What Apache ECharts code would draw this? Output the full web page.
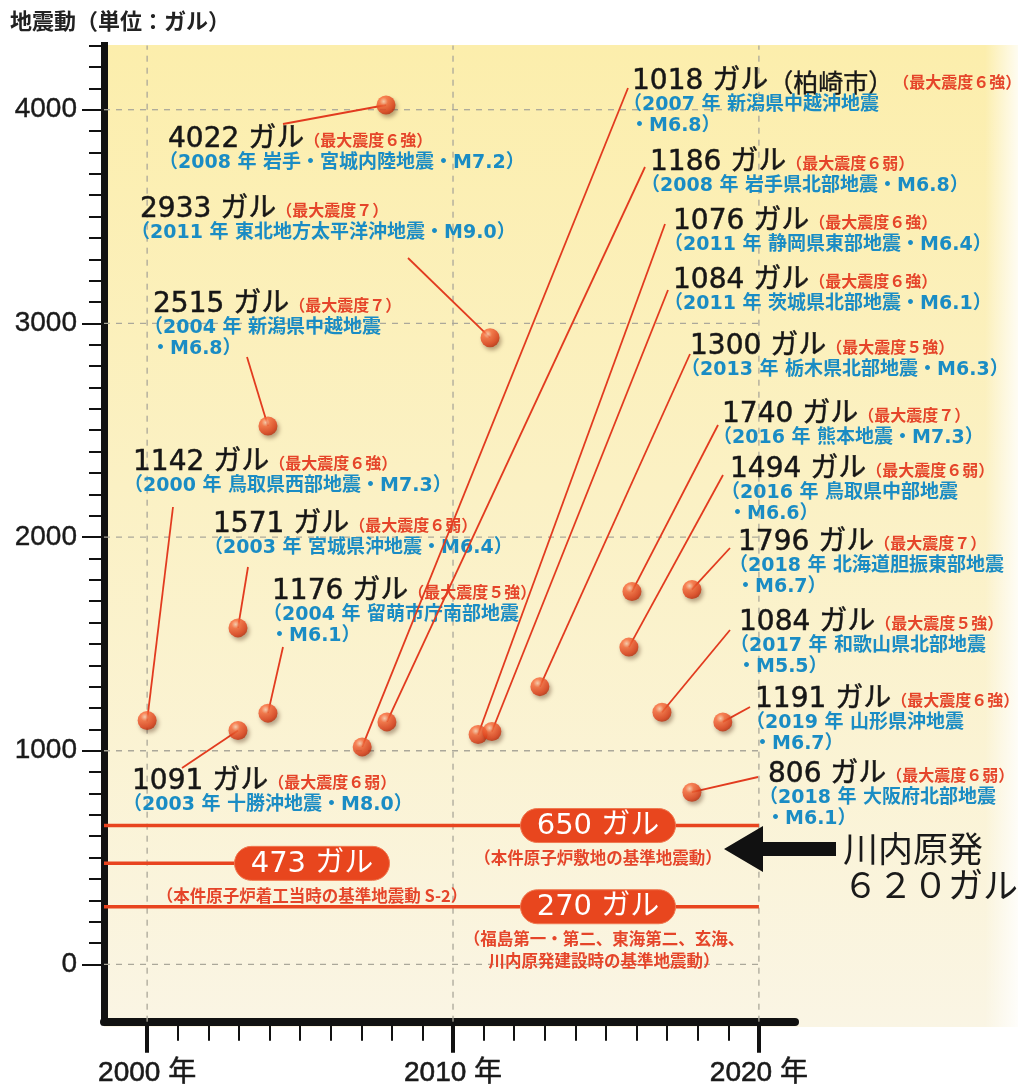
<!DOCTYPE html>
<html><head><meta charset="utf-8">
<script src="https://cdn.jsdelivr.net/npm/echarts@6/dist/echarts.min.js"></script>
<style>html,body{margin:0;padding:0;background:#fff}#c{width:1030px;height:1088px}</style>
</head><body><div id="c"></div>
<script>
// ---- data ----
const years = [2007.81, 2011.21, 2003.95, 2000.0, 2002.97, 2003.95, 2002.97, 2007.03, 2007.84,
               2010.82, 2011.27, 2012.84, 2015.85, 2015.75, 2017.81, 2016.83, 2018.82, 2017.81];
const gals  = [4022, 2933, 2520, 1142, 1575, 1176, 1095, 1018, 1135,
               1076, 1090, 1300, 1745, 1485, 1755, 1180, 1135, 806];
const galLabels = ['4022 ガル','2933 ガル','2515 ガル','1142 ガル','1571 ガル','1176 ガル','1091 ガル',
  '1018 ガル（柏崎市）','1186 ガル','1076 ガル','1084 ガル','1300 ガル','1740 ガル','1494 ガル',
  '1796 ガル','1084 ガル','1191 ガル','806 ガル'];
const intensityLabels = ['（最大震度６強）','（最大震度７）','（最大震度７）','（最大震度６強）','（最大震度６弱）',
  '（最大震度５強）','（最大震度６弱）','（最大震度６強）','（最大震度６弱）','（最大震度６強）','（最大震度６強）',
  '（最大震度５強）','（最大震度７）','（最大震度６弱）','（最大震度７）','（最大震度５強）','（最大震度６強）','（最大震度６弱）'];
const quakeLabels = [
  ['（2008 年 岩手・宮城内陸地震・M7.2）'],
  ['（2011 年 東北地方太平洋沖地震・M9.0）'],
  ['（2004 年 新潟県中越地震','・M6.8）'],
  ['（2000 年 鳥取県西部地震・M7.3）'],
  ['（2003 年 宮城県沖地震・M6.4）'],
  ['（2004 年 留萌市庁南部地震','・M6.1）'],
  ['（2003 年 十勝沖地震・M8.0）'],
  ['（2007 年 新潟県中越沖地震','・M6.8）'],
  ['（2008 年 岩手県北部地震・M6.8）'],
  ['（2011 年 静岡県東部地震・M6.4）'],
  ['（2011 年 茨城県北部地震・M6.1）'],
  ['（2013 年 栃木県北部地震・M6.3）'],
  ['（2016 年 熊本地震・M7.3）'],
  ['（2016 年 鳥取県中部地震','・M6.6）'],
  ['（2018 年 北海道胆振東部地震','・M6.7）'],
  ['（2017 年 和歌山県北部地震','・M5.5）'],
  ['（2019 年 山形県沖地震','・M6.7）'],
  ['（2018 年 大阪府北部地震','・M6.1）']
];
const refValues = [650, 473, 270];
const refLabels = ['650 ガル', '473 ガル', '270 ガル'];
const refCaptions = [
  ['（本件原子炉敷地の基準地震動）'],
  ['（本件原子炉着工当時の基準地震動 S-2）'],
  ['（福島第一・第二、東海第二、玄海、', '川内原発建設時の基準地震動）']
];
const xTickLabels = [2000, 2010, 2020];
const xMinorTicks = [2001,2002,2003,2004,2005,2006,2007,2008,2009,2011,2012,2013,2014,2015,2016,2017,2018,2019];
const yTickLabels = [0, 1000, 2000, 3000, 4000];
const yMinorTicks = [0,100,200,300,400,500,600,700,800,900,1000,1100,1200,1300,1400,1500,1600,1700,1800,1900,
  2000,2100,2200,2300,2400,2500,2600,2700,2800,2900,3000,3100,3200,3300,3400,3500,3600,3700,3800,3900,4000,4100,4200,4300];
const axisTitle = '地震動（単位：ガル）';
const sendaiLines = ['川内原発', '６２０ガル'];

// ---- layout (annotation placement, pixels / data-space anchors) ----
const X_MIN = 1998.59, X_MAX = 2021.18, Y_MIN = -268, Y_MAX = 4300;
const labelLayout = [
  [168,140,283,124],[140,210,408,258],[153,305,247,357],[133,463,173,507],[213,525,248,567],
  [272,592,283,647],[132,782,182,768],[632,82,628,88],[650,163,645,167],[673,222,665,224],
  [673,281,668,290],[690,347,690,354],[722,415,718,425],[730,470,723,475],[738,543,730,548],
  [739,623,730,630],[755,700,750,707],[768,775,758,777]
];
const refLineEnd = [2020, 2005.3, 2020];
const refPillAt = [2014.74, 2005.39, 2014.74];

const FONT_NUM = '"DejaVu Sans", "Noto Sans CJK JP", sans-serif';
const FONT_JP = '"Noto Sans CJK JP", sans-serif';
const FONT_AX = '"Liberation Sans", "Noto Sans CJK JP", sans-serif';
const RED = '#E5452A', BLUE = '#1A8CC4', LINE_RED = '#E8441F';

const chart = echarts.init(document.getElementById('c'));

function renderLabel(params, api) {
  const i = params.dataIndex;
  const p = api.coord([api.value(0), api.value(1)]);
  const L = labelLayout[i];
  const g = galLabels[i];
  const cut = g.indexOf('（');
  const head = cut >= 0 ? g.slice(0, cut) : g;
  const tail = cut >= 0 ? g.slice(cut) : '';
  const children = [
    {type:'line', shape:{x1:L[2], y1:L[3], x2:p[0], y2:p[1]}, style:{stroke:'#E23B1F', lineWidth:1.8}},
    {type:'text', x:L[0], y:L[1], style:{
      text:'{n|' + head + '}' + (tail ? '{m|' + tail + '}' : '') + '{r|' + intensityLabels[i] + '}',
      verticalAlign:'middle', align:'left',
      rich:{
        n:{fontFamily:FONT_NUM, fontSize:28, fill:'#161616', stroke:'#161616', lineWidth:0.5, lineHeight:30, verticalAlign:'middle'},
        m:{fontFamily:FONT_JP, fontSize:25, fill:'#161616', stroke:'#161616', lineWidth:0.4, lineHeight:30, verticalAlign:'middle'},
        r:{fontFamily:FONT_JP, fontSize:16, fontWeight:'bold', fill:RED, lineHeight:30, verticalAlign:'middle'}
      }}}
  ];
  quakeLabels[i].forEach(function(t, k){
    children.push({type:'text', x:L[0] + (k === 0 ? -9 : -2), y:L[1] + 23 + 21*k,
      style:{text:t, fill:BLUE, fontFamily:FONT_NUM, fontWeight:'bold', fontSize:19, verticalAlign:'middle', align:'left'}});
  });
  return {type:'group', children:children};
}

function renderRef(params, api) {
  const i = params.dataIndex;
  const v = api.value(0);
  const a = api.coord([X_MIN, v]);
  const b = api.coord([refLineEnd[i], v]);
  const c = api.coord([refPillAt[i], v]);
  const w = 155, h = 34;
  const children = [
    {type:'line', shape:{x1:a[0], y1:a[1], x2:b[0], y2:b[1]}, style:{stroke:LINE_RED, lineWidth:3.5}},
    {type:'rect', shape:{x:c[0]-w/2, y:c[1]-h/2, width:w, height:h, r:h/2}, style:{fill:'#E8461E', stroke:'#F07850', lineWidth:1}},
    {type:'text', x:c[0], y:c[1]+1, style:{text:refLabels[i], fill:'#fff', fontFamily:FONT_NUM, fontSize:29, align:'center', verticalAlign:'middle'}}
  ];
  refCaptions[i].forEach(function(t, k){
    children.push({type:'text', x:c[0] + (refCaptions[i].length > 1 ? 6 : 0), y:c[1] + 32 + 22*k,
      style:{text:t, fill:RED, fontFamily:FONT_JP, fontWeight:'bold', fontSize:16.5, align:'center', verticalAlign:'middle'}});
  });
  return {type:'group', children:children};
}

function renderHGrid(params, api) {
  const v = api.value(0);
  const a = api.coord([X_MIN, v]), b = api.coord([2020, v]);
  return {type:'line', shape:{x1:a[0], y1:a[1], x2:b[0], y2:b[1]}, style:{stroke:'#ABA89A', lineWidth:1.3, lineDash:[6,6]}};
}
function renderVGrid(params, api) {
  const v = api.value(0);
  const a = api.coord([v, Y_MIN]), b = api.coord([v, Y_MAX]);
  return {type:'line', shape:{x1:a[0], y1:a[1], x2:b[0], y2:b[1]}, style:{stroke:'#ABA89A', lineWidth:1.3, lineDash:[6,6]}};
}

const sphere = new echarts.graphic.RadialGradient(0.38, 0.32, 0.72, [
  {offset:0, color:'#FFD0B0'}, {offset:0.3, color:'#FA6A3A'}, {offset:0.75, color:'#E2401A'}, {offset:1, color:'#B82C0C'}
]);

const option = {
  animation:false,
  backgroundColor:'#ffffff',
  grid:{left:104, right:235, top:45.6, bottom:62},
  graphic:[
    {type:'rect', z:-10, shape:{x:104, y:45, width:914, height:982},
      style:{fill:new echarts.graphic.LinearGradient(0,0,0,1,[
        {offset:0, color:'#FCEEAC'}, {offset:0.45, color:'#FBF1C4'}, {offset:1, color:'#FAF5E4'}])}},
    {type:'rect', z:-9, shape:{x:985, y:45, width:34, height:982},
      style:{fill:new echarts.graphic.LinearGradient(0,0,1,0,[
        {offset:0, color:'rgba(255,255,255,0)'}, {offset:1, color:'rgba(255,255,255,0.85)'}])}},
    {type:'text', left:10, top:10, style:{text:axisTitle, fill:'#222', fontFamily:FONT_JP, fontWeight:'bold', fontSize:22}},
    {type:'polygon', z:20, shape:{points:[[724,849],[763,826],[763,842],[836,842],[836,856],[763,856],[763,872]]},
      style:{fill:'#111'}},
    {type:'text', z:20, x:843, y:849, style:{text:sendaiLines[0], fill:'#1a1a1a', fontFamily:FONT_JP, fontSize:35, verticalAlign:'middle'}},
    {type:'text', z:20, x:843, y:885, style:{text:sendaiLines[1], fill:'#1a1a1a', fontFamily:FONT_JP, fontSize:35, verticalAlign:'middle'}}
  ],
  xAxis:[
    {type:'value', min:X_MIN, max:X_MAX, position:'bottom',
      axisLine:{show:true, onZero:false, lineStyle:{color:'#111', width:8}},
      axisTick:{show:true, customValues:xTickLabels, length:31, lineStyle:{color:'#111', width:4}},
      axisLabel:{customValues:xTickLabels, formatter:function(v){return v + ' 年';}, margin:38,
        fontSize:28, color:'#1a1a1a', fontFamily:FONT_AX, textBorderColor:'#1a1a1a', textBorderWidth:0.6},
      splitLine:{show:false}},
    {type:'value', min:X_MIN, max:X_MAX, position:'bottom',
      axisLine:{show:false, onZero:false},
      axisTick:{show:true, customValues:xMinorTicks, length:19, lineStyle:{color:'#111', width:2}},
      axisLabel:{show:false}, splitLine:{show:false}}
  ],
  yAxis:[
    {type:'value', min:Y_MIN, max:Y_MAX, position:'left',
      axisLine:{show:true, onZero:false, lineStyle:{color:'#111', width:7, cap:'square'}},
      axisTick:{show:true, customValues:yTickLabels, length:22, lineStyle:{color:'#111', width:2}},
      axisLabel:{customValues:yTickLabels, formatter:function(v){return String(v);}, margin:27,
        fontSize:28, color:'#1a1a1a', fontFamily:FONT_AX, textBorderColor:'#1a1a1a', textBorderWidth:0.4},
      splitLine:{show:false}},
    {type:'value', min:Y_MIN, max:Y_MAX, position:'left',
      axisLine:{show:false, onZero:false},
      axisTick:{show:true, customValues:yMinorTicks, length:15, lineStyle:{color:'#111', width:2}},
      axisLabel:{show:false}, splitLine:{show:false}}
  ],
  series:[
    {type:'custom', name:'hgrid', z:1, silent:true, clip:false, renderItem:renderHGrid, data:yTickLabels.map(function(v){return [v];})},
    {type:'custom', name:'vgrid', z:1, silent:true, clip:false, renderItem:renderVGrid, data:xTickLabels.map(function(v){return [v];})},
    {type:'custom', name:'ref', z:3, silent:true, clip:false, renderItem:renderRef, data:refValues.map(function(v){return [v];})},
    {type:'custom', name:'labels', z:4, silent:true, clip:false, renderItem:renderLabel,
      data:years.map(function(y, i){return [y, gals[i]];})},
    {type:'scatter', name:'quakes', z:6, symbol:'circle', symbolSize:19,
      itemStyle:{color:sphere, shadowBlur:4, shadowColor:'rgba(60,20,0,0.45)', shadowOffsetX:2, shadowOffsetY:3},
      data:years.map(function(y, i){return [y, gals[i]];})}
  ]
};
chart.setOption(option);
</script></body></html>
